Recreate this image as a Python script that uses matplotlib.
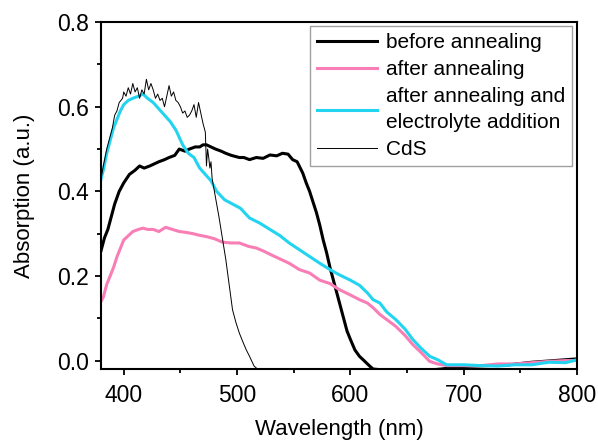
import matplotlib.pyplot as plt
from matplotlib.ticker import MultipleLocator

plt.rcParams['font.family'] = ['Liberation Sans', 'DejaVu Sans']

# before annealing
wl_before = [380, 383, 386, 389, 392, 396, 400, 405, 410, 414, 418, 423, 427, 431, 436,
             440, 445, 449, 454, 458, 463, 467, 470, 473, 477, 481, 486, 490, 495, 502,
             506, 511, 517, 523, 529, 535, 540, 545, 549, 553, 558, 561, 564, 567, 570,
             573, 576, 579, 582, 585, 588, 591, 594, 597, 600, 604, 608, 612, 617, 620,
             640, 660, 680, 700, 720, 740, 760, 780, 800]
abs_before = [0.26, 0.29, 0.31, 0.34, 0.37, 0.40, 0.42, 0.44, 0.45, 0.46, 0.455, 0.46, 0.465, 0.47, 0.475,
              0.48, 0.485, 0.50, 0.495, 0.50, 0.505, 0.505, 0.51, 0.51, 0.505, 0.50, 0.495, 0.49, 0.485, 0.48,
              0.48, 0.475, 0.48, 0.478, 0.486, 0.484, 0.49, 0.488, 0.475, 0.47, 0.443, 0.42, 0.40, 0.375, 0.35,
              0.32, 0.285, 0.255, 0.22, 0.19, 0.16, 0.13, 0.10, 0.07, 0.05, 0.025, 0.01, 0.0, -0.013, -0.02,
              -0.025, -0.025, -0.02, -0.014, -0.012, -0.01, -0.004, 0.0, 0.004]

# after annealing
wl_after = [380, 382, 385, 388, 391, 394, 397, 400, 404, 408, 413, 417, 421, 426, 431,
            437, 443, 449, 455, 461, 467, 473, 480, 487, 494, 502, 510, 517, 524, 530,
            538, 546, 555, 564, 573, 582, 590, 600, 608, 615, 620, 626, 632, 640, 648,
            655, 662, 670, 677, 685, 700, 715, 730, 745, 760, 775, 790, 800]
abs_after = [0.14, 0.15, 0.18, 0.20, 0.22, 0.245, 0.265, 0.285, 0.295, 0.305, 0.31, 0.313, 0.31, 0.31, 0.305,
             0.315, 0.31, 0.305, 0.303, 0.30, 0.296, 0.293, 0.288, 0.28, 0.278, 0.278, 0.27, 0.266, 0.258, 0.25,
             0.24, 0.23, 0.215, 0.207, 0.19, 0.182, 0.168, 0.155, 0.144, 0.136, 0.125, 0.109, 0.097, 0.081, 0.06,
             0.038, 0.02, -0.002, -0.008, -0.012, -0.012, -0.012, -0.008, -0.008, -0.005, -0.002, 0.0, 0.0]

# after annealing and electrolyte addition
wl_elec = [380, 382, 385, 388, 391, 394, 397, 400, 404, 408, 413, 417, 421, 426, 431,
           436, 441, 446, 452, 457, 462, 467, 472, 477, 482, 489, 496, 503, 511, 520,
           529, 538, 546, 555, 564, 573, 582, 590, 600, 608, 615, 620, 626, 632, 640,
           648, 655, 662, 670, 677, 685, 700, 715, 730, 745, 760, 775, 790, 800]
abs_elec = [0.43, 0.45, 0.49, 0.52, 0.55, 0.57, 0.59, 0.605, 0.615, 0.62, 0.625, 0.63, 0.62, 0.61, 0.595,
            0.58, 0.565, 0.545, 0.51, 0.49, 0.48, 0.455, 0.44, 0.425, 0.40, 0.38, 0.37, 0.36, 0.337, 0.325,
            0.31, 0.295, 0.278, 0.262, 0.246, 0.23, 0.215, 0.203, 0.19, 0.178, 0.16, 0.144, 0.136, 0.115, 0.097,
            0.075, 0.05, 0.03, 0.01, 0.002, -0.01, -0.01, -0.012, -0.013, -0.01, -0.01, -0.004, -0.005, 0.002]

# CdS
wl_cds = [380, 382, 385, 388, 390, 392, 394, 396, 399, 400, 402, 404, 406, 408, 410,
          412, 414, 416, 418, 420, 422, 424, 426, 428, 430, 432, 434, 436, 438, 440,
          442, 444, 446, 448, 450, 452, 454, 456, 458, 460, 462, 464, 466, 468, 470,
          472, 473, 474, 475, 476, 477, 478, 480, 482, 484, 487, 490, 492, 494, 496,
          499, 502, 505, 508, 511, 515, 518]
abs_cds = [0.43, 0.46, 0.50, 0.53, 0.55, 0.58, 0.59, 0.61, 0.62, 0.635, 0.625, 0.645, 0.63, 0.655, 0.635,
           0.645, 0.62, 0.64, 0.63, 0.665, 0.64, 0.655, 0.64, 0.62, 0.63, 0.615, 0.62, 0.60, 0.625, 0.65,
           0.625, 0.635, 0.615, 0.61, 0.60, 0.585, 0.59, 0.575, 0.58, 0.59, 0.605, 0.575, 0.61, 0.585, 0.56,
           0.54, 0.46, 0.50, 0.48, 0.455, 0.47, 0.43, 0.40, 0.37, 0.34, 0.29, 0.24, 0.20, 0.16, 0.12,
           0.09, 0.065, 0.045, 0.026, 0.01, -0.013, -0.02]

fig = plt.figure(figsize=(5.98, 4.43), dpi=100)
ax = fig.add_axes([0.169, 0.167, 0.796, 0.783])

ax.plot(wl_before, abs_before, color='black', lw=2.2, label='before annealing')
ax.plot(wl_after, abs_after, color='#f97eb5', lw=2.2, label='after annealing')
ax.plot(wl_elec, abs_elec, color='#22d4ef', lw=2.2, label='after annealing and\nelectrolyte addition')
ax.plot(wl_cds, abs_cds, color='black', lw=0.7, label='CdS')

ax.set_xlim(380, 800)
ax.set_ylim(-0.02, 0.8)
ax.xaxis.set_major_locator(MultipleLocator(100))
ax.xaxis.set_minor_locator(MultipleLocator(50))
ax.yaxis.set_major_locator(MultipleLocator(0.2))
ax.yaxis.set_minor_locator(MultipleLocator(0.1))
ax.set_yticks([0.0, 0.2, 0.4, 0.6, 0.8])
ax.set_yticklabels(['0.0', '0.2', '0.4', '0.6', '0.8'])

for s in ax.spines.values():
    s.set_linewidth(1.5)
ax.tick_params(which='major', direction='out', length=4.5, width=1.3, labelsize=16.5)
ax.tick_params(which='minor', direction='out', length=3, width=1.3)
ax.tick_params(axis='x', which='major', pad=6)
ax.tick_params(axis='y', which='major', pad=4)

ax.set_xlabel('Wavelength (nm)', fontsize=16, labelpad=9)
ax.set_ylabel('Absorption (a.u.)', fontsize=16, labelpad=16)

leg = ax.legend(loc='upper right', bbox_to_anchor=(0.99, 0.99), borderaxespad=0,
                fontsize=15, frameon=True, fancybox=False, edgecolor='#888888',
                handlelength=2.9, handletextpad=0.4, labelspacing=0.38,
                borderpad=0.35)
leg.get_frame().set_linewidth(1.0)
for t in leg.get_texts():
    t.set_linespacing(1.5)

fig.savefig('out.png', dpi=100)
